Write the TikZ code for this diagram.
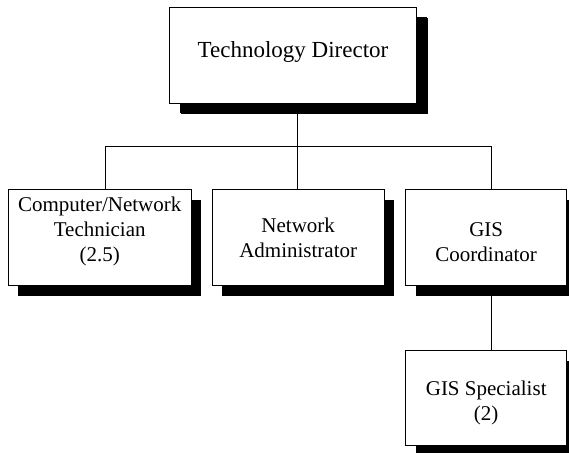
\documentclass[tikz,border=0pt]{standalone}
\usepackage{fontspec}
\setmainfont{Liberation Serif}
\usetikzlibrary{shadows}

\tikzset{
  orgbox/.style={draw, fill=white, line width=0.8pt, inner sep=0pt,
    drop shadow={shadow xshift=10pt, shadow yshift=-10pt, fill=black, opacity=1}},
  orgtext/.style={align=center, inner sep=0pt, font=\fontsize{21}{25}\selectfont},
  link/.style={line width=0.8pt}
}

\begin{document}
\begin{tikzpicture}[x=1pt, y=-1pt]

  \useasboundingbox (0,0) rectangle (569,452);

  \def\busy{146}
  \def\bh{96}

  % top
  \node[orgbox, minimum width=247pt, minimum height=\bh pt,
        drop shadow={shadow xshift=11pt, shadow yshift=-11pt, fill=black, opacity=1},
        label={[orgtext, font=\fontsize{23}{27}\selectfont, yshift=3pt]center:Technology Director}]
        (dir) at (293,55.3) {};

  % second level
  \node[orgbox, minimum width=182.7pt, minimum height=\bh pt,
        label={[orgtext, yshift=6pt]center:{Computer/Network\\Technician\\(2.5)}}]
        (tech) at (99.7,237.5) {};
  \node[orgbox, minimum width=171.7pt, minimum height=\bh pt,
        label={[orgtext]center:{Network\\Administrator}}]
        (admin) at (298.2,237.5) {};
  \node[orgbox, minimum width=161pt, minimum height=\bh pt,
        label={[orgtext, yshift=-5pt]center:{GIS\\Coordinator}}]
        (gisc) at (486.2,237.5) {};

  % third level
  \node[orgbox, minimum width=161pt, minimum height=95pt,
        label={[orgtext, yshift=-5pt]center:{GIS Specialist\\(2)}}]
        (giss) at (486.2,398.2) {};

  % bus and drops
  \coordinate (jdir)  at (297.7,\busy);
  \coordinate (jtech) at (105,\busy);
  \coordinate (jgis)  at (491,\busy);

  \draw[link] (jdir |- dir.south) -- (jdir);
  \draw[link] (jtech) -- (jgis);
  \draw[link] (jtech) -- (jtech |- tech.north);
  \draw[link] (jdir) -- (jdir |- admin.north);
  \draw[link] (jgis) -- (jgis |- gisc.north);
  \draw[link] (jgis |- gisc.south) -- (jgis |- giss.north);

\end{tikzpicture}
\end{document}
